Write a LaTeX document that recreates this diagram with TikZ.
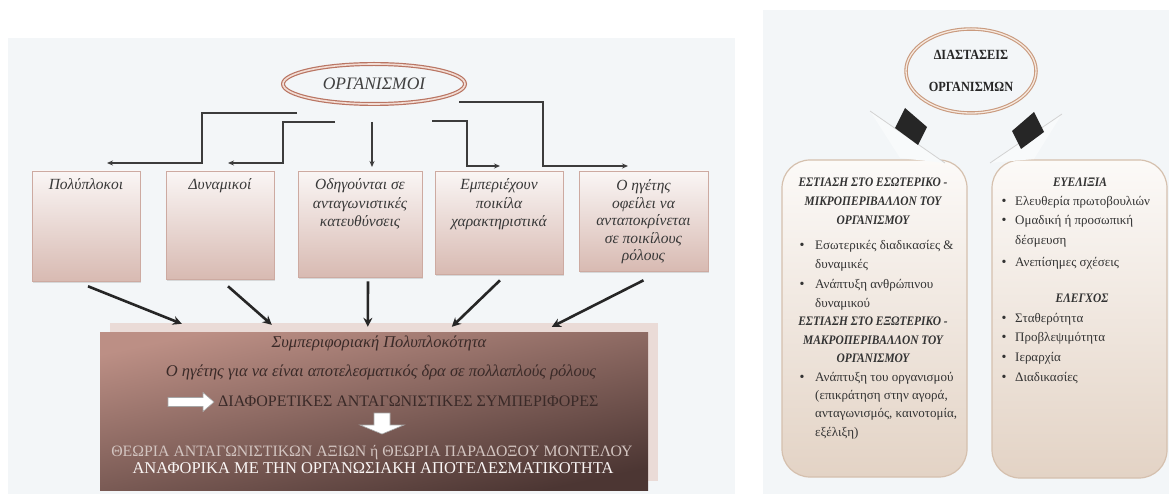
\documentclass[tikz,border=0pt]{standalone}
\usepackage{fontspec}
\setmainfont{Liberation Serif}
\newfontfamily\narrowserif{Liberation Serif}[FakeStretch=0.88]
\usetikzlibrary{shapes.geometric,arrows.meta,shadows}

\definecolor{panelbg}{HTML}{F3F6F8}
\definecolor{ringred}{HTML}{B97563}
\definecolor{ringlight}{HTML}{F2DDD5}
\definecolor{boxtop}{HTML}{FAF6F5}
\definecolor{boxbot}{HTML}{D8BAB2}
\definecolor{boxedge}{HTML}{CDAAA1}
\definecolor{linkgray}{HTML}{3C3C3C}
\definecolor{browntop}{HTML}{BC8F85}
\definecolor{brownmid}{HTML}{8C6863}
\definecolor{brownbot}{HTML}{4C3633}
\definecolor{shadowpink}{HTML}{EADBD7}
\definecolor{browntext}{HTML}{3A2A28}
\definecolor{lighttext}{HTML}{D2C4C0}
\definecolor{ringtan}{HTML}{C99A7E}
\definecolor{ringcream}{HTML}{F6E9DF}
\definecolor{cardtop}{HTML}{FCFAF8}
\definecolor{cardbot}{HTML}{E3D3C5}
\definecolor{cardedge}{HTML}{D5C0AE}
\definecolor{cardtext}{HTML}{333333}

\begin{document}
\begin{tikzpicture}[x=1pt,y=-1pt,
  link/.style={draw=linkgray, line width=1.3pt, -{Stealth[length=6pt,width=5pt]}},
  fat/.style={draw=black!85, line width=2.6pt, -{Stealth[length=9pt,width=9pt]}},
  sbox/.style={rectangle, draw=boxedge, line width=0.6pt, top color=boxtop, bottom color=boxbot,
    drop shadow={opacity=0.25, shadow xshift=1pt, shadow yshift=-1.5pt}, inner sep=0},
  btext/.style={font=\itshape\fontsize{15.5}{18.5}\selectfont, text=black!78, align=center, inner sep=0, anchor=north},
  bline/.style={inner sep=0, text height=10pt, text depth=3pt},
  blockarrow/.style={draw=gray!70, fill=white, line width=0.6pt, line join=miter},
  card/.style={rectangle, rounded corners=28pt, draw=cardedge, line width=1.2pt, top color=cardtop, bottom color=cardbot, inner sep=0},
  chead/.style={font=\narrowserif\bfseries\itshape\fontsize{13}{15}\selectfont, text=cardtext, inner sep=0, text height=9pt, text depth=3pt},
  citem/.style={font=\fontsize{13}{15}\selectfont, text=cardtext, inner sep=0, anchor=west, text height=9pt, text depth=3pt},
  cbullet/.style={font=\fontsize{14}{14}\selectfont, text=cardtext, inner sep=0, text height=9pt, text depth=3pt}
]
\useasboundingbox (0,0) rectangle (1169,494);
\fill[white] (0,0) rectangle (1169,494);

% ---------- left panel ----------
\fill[panelbg] (8,38) rectangle (735,494);

\node[ellipse, draw=ringred, line width=1.2pt, double=ringlight, double distance=1.6pt, fill=panelbg,
  minimum width=182pt, minimum height=40pt, inner sep=0,
  font=\itshape\fontsize{17.5}{20}\selectfont, text=black!75] (org) at (374,84) {ΟΡΓΑΝΙΣΜΟΙ};

% branch start and end points
\coordinate (s1) at (297,113);
\coordinate (s2) at (335,122);
\coordinate (s3) at (372,122);
\coordinate (s4) at (432,121);
\coordinate (s5) at (459,102);
\coordinate (t1) at (107,163);
\coordinate (t2) at (228,163);
\coordinate (t3) at (372,167);
\coordinate (t4) at (500,166);
\coordinate (t5) at (628,166);

\draw[link] (s1) -- ++(-95,0) |- (t1);
\draw[link] (s2) -- ++(-52,0) |- (t2);
\draw[link] (s3) -- (t3);
\draw[link] (s4) -- ++(35,0) |- (t4);
\draw[link] (s5) -- ++(84,0) |- (t5);

% five feature boxes
\node[sbox, minimum width=108pt, minimum height=110pt] (b1) at (86,226) {};
\node[sbox, minimum width=108pt, minimum height=108pt] (b2) at (220,225) {};
\node[sbox, minimum width=124pt, minimum height=106pt] (b3) at (360,224) {};
\node[sbox, minimum width=128pt, minimum height=103pt] (b4) at (499,222.5) {};
\node[sbox, minimum width=129pt, minimum height=100pt] (b5) at (643.5,221) {};

\node[btext] (b1t) at ([yshift=-8pt]b1.north) {Πολύπλοκοι};
\node[btext] (b2t) at ([yshift=-8pt]b2.north) {Δυναμικοί};
\node[btext] (b3t) at ([yshift=-8pt]b3.north) {Οδηγούνται σε\\ανταγωνιστικές\\κατευθύνσεις};
\node[btext] (b4t) at ([yshift=-8pt]b4.north) {Εμπεριέχουν\\ποικίλα\\χαρακτηριστικά};
\node[btext, font=\itshape\fontsize{15.5}{17.5}\selectfont] (b5t) at ([yshift=-9pt]b5.north) {Ο ηγέτης\\οφείλει να\\ανταποκρίνεται\\σε ποικίλους\\ρόλους};

% summary box with its offset backing
\fill[shadowpink] (110,323) rectangle (658,481);
\node[rectangle, minimum width=548pt, minimum height=158pt, inner sep=0,
  top color=browntop, middle color=brownmid, bottom color=brownbot, shading angle=12] (bb) at (374,411) {};

\draw[fat] ([shift={(2,5)}]b1.south) -- ([shift={(82,-8)}]bb.north west);
\draw[fat] ([shift={(8,7)}]b2.south) -- ([shift={(172,-7)}]bb.north west);
\draw[fat] ([shift={(8,4)}]b3.south) -- ([shift={(268,-5)}]bb.north west);
\draw[fat] ([shift={(1,6)}]b4.south) -- ([shift={(352,-5)}]bb.north west);
\draw[fat] ([shift={(0,9)}]b5.south) -- ([shift={(452,-5)}]bb.north west);

\node[bline, font=\itshape\fontsize{16.5}{18}\selectfont, text=browntext] (bb1) at (379,344) {Συμπεριφοριακή Πολυπλοκότητα};
\node[bline, font=\itshape\fontsize{16.5}{18}\selectfont, text=browntext] (bb2) at (381,373) {Ο ηγέτης για να είναι αποτελεσματικός δρα σε πολλαπλούς ρόλους};
% white block arrows
\draw[blockarrow] (168,397.5) -- (203,397.5) -- (203,392.5) -- (214,402) -- (203,411.5) -- (203,406.5) -- (168,406.5) -- cycle;
\node[bline, anchor=west, font=\fontsize{16}{18}\selectfont, text=browntext] (bb3) at (218,403) {ΔΙΑΦΟΡΕΤΙΚΕΣ ΑΝΤΑΓΩΝΙΣΤΙΚΕΣ ΣΥΜΠΕΡΙΦΟΡΕΣ};
\draw[blockarrow] (374,413) -- (390,413) -- (390,425) -- (404,425) -- (382,434) -- (360,425) -- (374,425) -- cycle;
\node[bline, font=\fontsize{15.8}{18}\selectfont, text=lighttext] (bb4) at (372,453) {ΘΕΩΡΙΑ ΑΝΤΑΓΩΝΙΣΤΙΚΩΝ ΑΞΙΩΝ ή ΘΕΩΡΙΑ ΠΑΡΑΔΟΞΟΥ ΜΟΝΤΕΛΟΥ};
\node[bline, font=\fontsize{16.5}{18}\selectfont, text=white!92!browntop] (bb5) at (373,470) {ΑΝΑΦΟΡΙΚΑ ΜΕ ΤΗΝ ΟΡΓΑΝΩΣΙΑΚΗ ΑΠΟΤΕΛΕΣΜΑΤΙΚΟΤΗΤΑ};

% ---------- right panel ----------
\fill[panelbg] (763,10) rectangle (1169,494);

\node[card, minimum width=185pt, minimum height=317pt] (c1) at (874.5,318.5) {};
\node[card, minimum width=175pt, minimum height=318pt] (c2) at (1079.5,319) {};

% arrow heads (pale) and bodies (black) leading from the title to the cards
\fill[white!40!panelbg] (870,111) -- (945,163) -- (900,158) -- cycle;
\draw[gray!35, line width=0.8pt] (870,111) -- (945,163);
\fill[black!85] (905,108) -- (927,127) -- (918,145) -- (895,128) -- cycle;
\fill[white!40!panelbg] (1062,114) -- (990,163) -- (1034,159) -- cycle;
\draw[gray!35, line width=0.8pt] (1062,114) -- (990,163);
\fill[black!85] (1034,112) -- (1012,131) -- (1021,149) -- (1044,132) -- cycle;

\node[ellipse, draw=ringtan, line width=1.1pt, double=ringcream, double distance=1.3pt, fill=panelbg,
  minimum width=130pt, minimum height=84pt, inner sep=0, align=center,
  font=\narrowserif\bfseries\fontsize{14}{32}\selectfont, text=black!85] (dorg) at (971,71) {ΔΙΑΣΤΑΣΕΙΣ\\ΟΡΓΑΝΙΣΜΩΝ};

% left card contents
\foreach \y/\t [count=\i] in {184/{ΕΣΤΙΑΣΗ ΣΤΟ ΕΣΩΤΕΡΙΚΟ -}, 203/{ΜΙΚΡΟΠΕΡΙΒΑΛΛΟΝ ΤΟΥ}, 222/{ΟΡΓΑΝΙΣΜΟΥ},
    322/{ΕΣΤΙΑΣΗ ΣΤΟ ΕΞΩΤΕΡΙΚΟ -}, 341/{ΜΑΚΡΟΠΕΡΙΒΑΛΛΟΝ ΤΟΥ}, 359/{ΟΡΓΑΝΙΣΜΟΥ}}
  \node[chead] (lh\i) at (873,\y) {\t};
\foreach \y/\t [count=\i] in {247/{Εσωτερικές διαδικασίες \&}, 266/{δυναμικές}, 285/{Ανάπτυξη ανθρώπινου},
    304/{δυναμικού}, 378/{Ανάπτυξη του οργανισμού}, 396/{(επικράτηση στην αγορά,},
    414/{ανταγωνισμός, καινοτομία,}, 433/{εξέλιξη)}}
  \node[citem] (li\i) at (815,\y) {\t};
\foreach \y [count=\i] in {247,285,378}
  \node[cbullet] (lb\i) at (802,\y) {•};

% right card contents
\node[chead] (rh1) at (1080,184) {ΕΥΕΛΙΞΙΑ};
\node[chead] (rh2) at (1082,299) {ΕΛΕΓΧΟΣ};
\foreach \y/\t [count=\i] in {203/{Ελευθερία πρωτοβουλιών}, 222/{Ομαδική ή προσωπική}, 242/{δέσμευση},
    263/{Ανεπίσημες σχέσεις}, 319/{Σταθερότητα}, 338/{Προβλεψιμότητα}, 358/{Ιεραρχία}, 378/{Διαδικασίες}}
  \node[citem] (ri\i) at (1015,\y) {\t};
\foreach \y [count=\i] in {203,222,263,319,338,358,378}
  \node[cbullet] (rb\i) at (1004,\y) {•};
\end{tikzpicture}
\end{document}
